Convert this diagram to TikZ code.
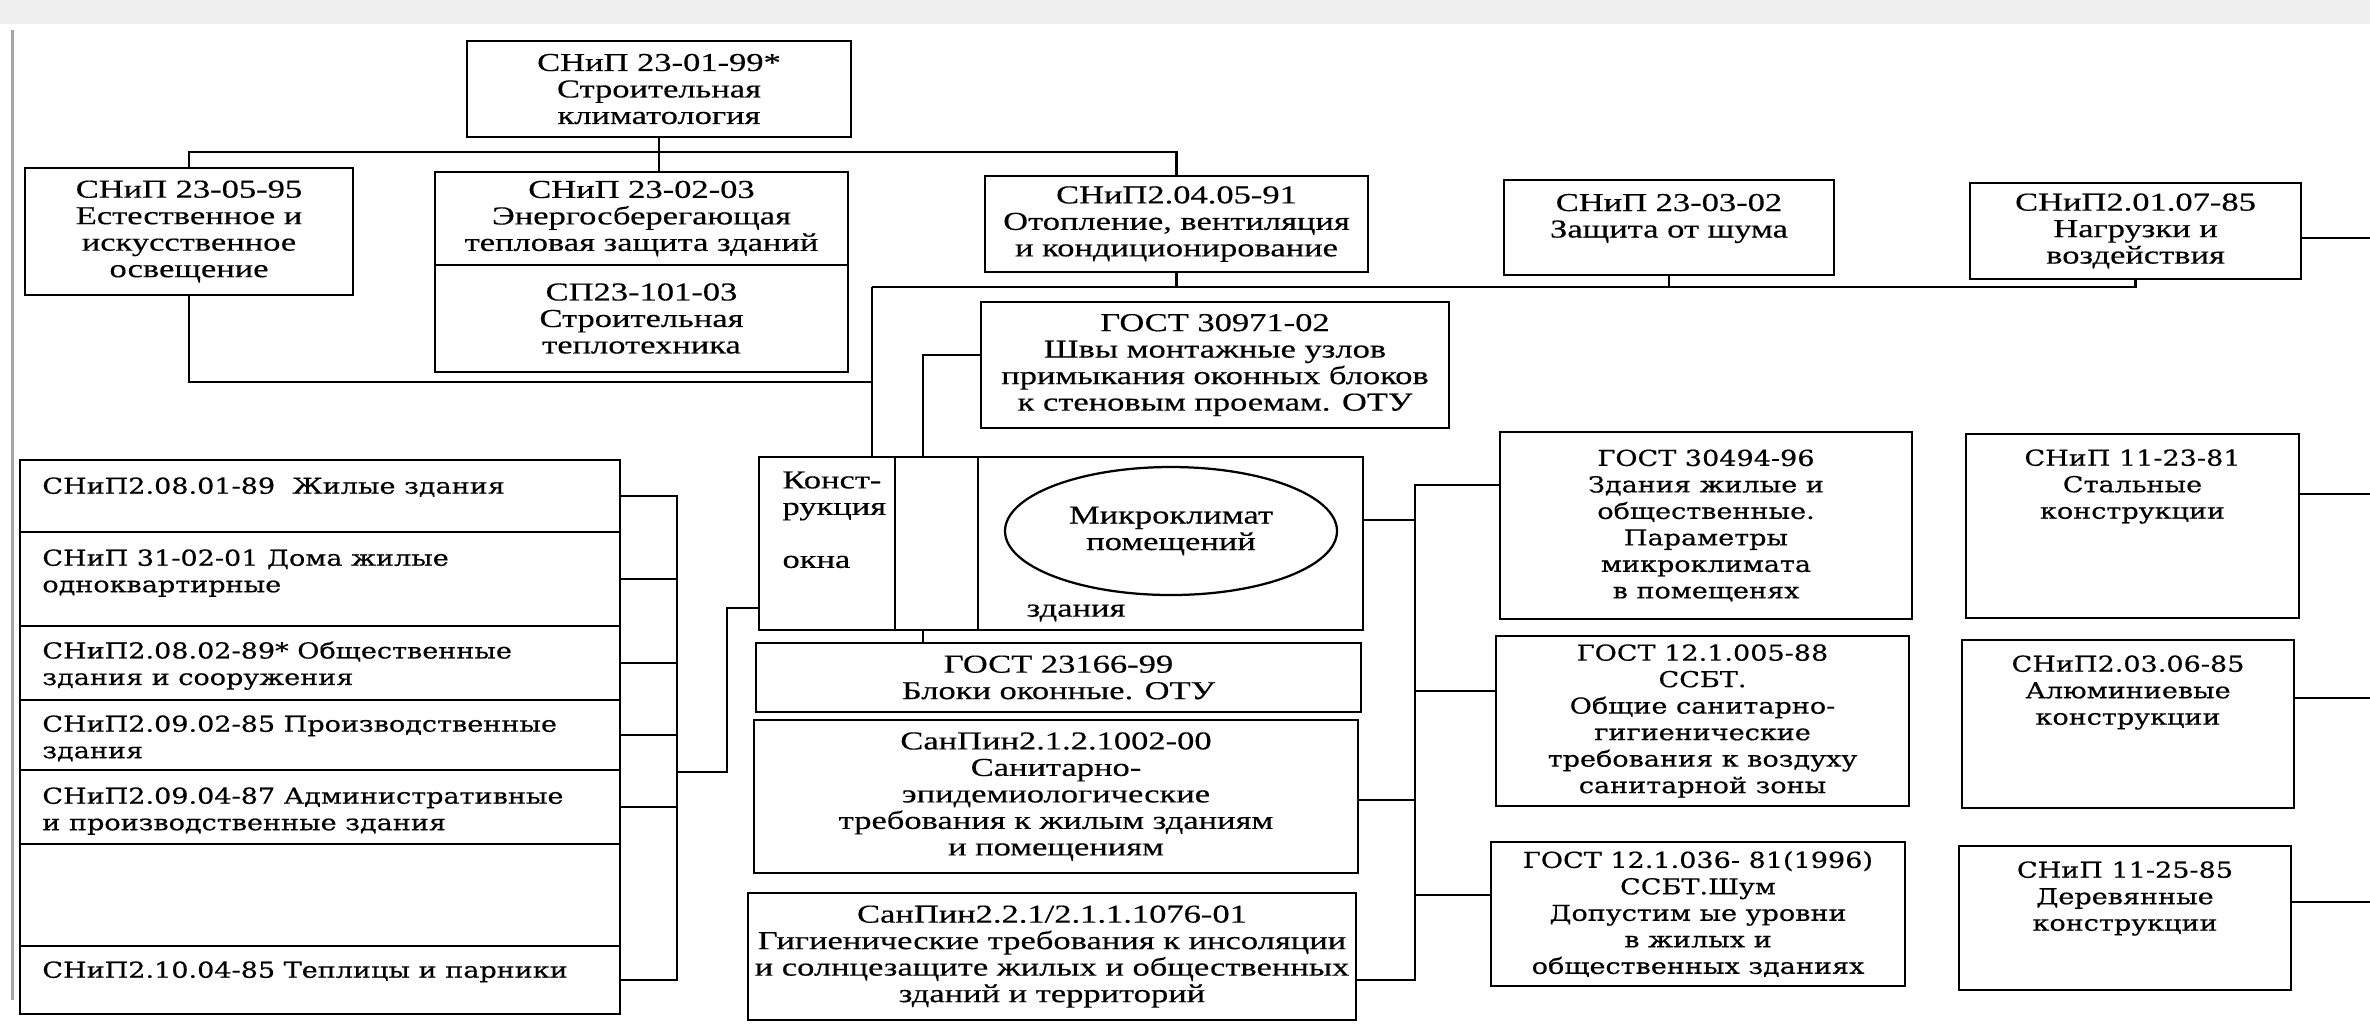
\documentclass[tikz,border=0pt]{standalone}
\usepackage{fontspec}
\setmainfont[FakeStretch=1.34, FakeBold=0.4]{Liberation Serif}
\newfontfamily\stackfont[FakeStretch=1.23, FakeBold=0.5]{DejaVu Serif}
\usepackage{tikz}
\usetikzlibrary{positioning}
\usetikzlibrary{shapes.geometric}

\begin{document}
\begin{tikzpicture}[x=0.4pt, y=-0.4pt,
  box/.style={draw, line width=0.9pt, inner sep=0pt, align=center, font=\fontsize{10.3}{10.6}\selectfont},
  wbox/.style={box, font=\stackfont\fontsize{8.8}{10.6}\selectfont},
  txt/.style={inner sep=0pt, align=center, font=\fontsize{10.3}{10.6}\selectfont},
  wtxt/.style={inner sep=0pt, align=left, font=\stackfont\fontsize{8.8}{10.6}\selectfont},
  wh/.style 2 args={minimum width=#1*0.4pt, minimum height=#2*0.4pt},
  wire/.style={draw, line width=0.9pt}]

\useasboundingbox (0,0) rectangle (2370,1023);

% scan edge
\fill[gray!12] (0,0) rectangle (2370,24);
\path[draw, gray!70, line width=1.2pt] (12,30) -- (12,1000);

% top rows
\node[box, wh={384}{96}] (1) at (659,89) {СНиП 23-01-99*\\Строительная\\климатология};
\node[box, wh={328}{127}] (2) at (189,231.5) {СНиП 23-05-95\\Естественное и\\искусственное\\освещение};
\node[box, wh={413}{93}] (3) at (641.5,218.5) {СНиП 23-02-03\\Энергосберегающая\\тепловая защита зданий};
\node[box, wh={413}{107}] (4) at (641.5,318.5) {СП23-101-03\\Строительная\\теплотехника};
\node[box, wh={383}{96}] (5) at (1176.5,224) {СНиП2.04.05-91\\Отопление, вентиляция\\и кондиционирование};
\node[box, wh={330}{95}] (6) at (1669,227.5) {};
\node[txt, below=5.8pt of 6.north] (6t) {СНиП 23-03-02\\Защита от шума};
\node[box, wh={331}{96}] (7) at (2135.5,231) {СНиП2.01.07-85\\Нагрузки и\\воздействия};
\node[box, wh={468}{126}] (8) at (1215,365) {ГОСТ 30971-02\\Швы монтажные узлов\\примыкания оконных блоков\\к стеновым проемам. ОТУ};

% window / microclimate block
\node[box, wh={136}{173}] (9) at (827,543.5) {};
\node[box, wh={83}{173}] (10) at (936.5,543.5) {};
\node[box, wh={385}{173}] (11) at (1170.5,543.5) {};
\node[txt, align=left, anchor=north west] (9t) at (782,471) {Конст-\\рукция\\[10.6pt]окна};
\node[box, ellipse, wh={332}{128}] (12) at (1171,531) {Микроклимат\\помещений};
\node[txt] (11t) at (1076,613) {здания};

\node[box, wh={605}{69}] (13) at (1058.5,677.5) {ГОСТ 23166-99\\Блоки оконные. ОТУ};
\node[box, wh={604}{153}] (14) at (1056,796.5) {СанПин2.1.2.1002-00\\Санитарно-\\эпидемиологические\\требования к жилым зданиям\\и помещениям};
\node[box, wh={608}{127}] (15) at (1052,956.5) {СанПин2.2.1/2.1.1.1076-01\\Гигиенические требования к инсоляции\\и солнцезащите жилых и общественных\\зданий и территорий};

% right columns
\node[wbox, wh={412}{187}] (16) at (1706,525.5) {ГОСТ 30494-96\\Здания жилые и\\общественные.\\Параметры\\микроклимата\\в помещенях};
\node[wbox, wh={413}{170}] (17) at (1702.5,721) {ГОСТ 12.1.005-88\\ССБТ.\\Общие санитарно-\\гигиенические\\требования к воздуху\\санитарной зоны};
\node[wbox, wh={414}{144}] (18) at (1698,914) {ГОСТ 12.1.036- 81(1996)\\ССБТ.Шум\\Допустим ые уровни\\в жилых и\\общественных зданиях};

\node[wbox, wh={333}{184}] (19) at (2132.5,526) {};
\node[wtxt, align=center, below=6.4pt of 19.north] (19t) {СНиП 11-23-81\\Стальные\\конструкции};
\node[wbox, wh={332}{168}] (20) at (2128,724) {};
\node[wtxt, align=center, below=6.4pt of 20.north] (20t) {СНиП2.03.06-85\\Алюминиевые\\конструкции};
\node[wbox, wh={332}{144}] (21) at (2125,918) {};
\node[wtxt, align=center, below=6.4pt of 21.north] (21t) {СНиП 11-25-85\\Деревянные\\конструкции};

% left stack
\node[wbox, wh={600}{72}] (22) at (320,496) {};
\node[wbox, wh={600}{94}] (23) at (320,579) {};
\node[wbox, wh={600}{74}] (24) at (320,663) {};
\node[wbox, wh={600}{70}] (25) at (320,735) {};
\node[wbox, wh={600}{74}] (26) at (320,807) {};
\node[wbox, wh={600}{102}] (27) at (320,895) {};
\node[wbox, wh={600}{68}] (28) at (320,980) {};
\node[wtxt, anchor=north west] (22t) at ([xshift=9.2pt, yshift=-7.2pt]22.north west) {СНиП2.08.01-89~~Жилые здания};
\node[wtxt, anchor=north west] (23t) at ([xshift=9.2pt, yshift=-7.2pt]23.north west) {СНиП 31-02-01 Дома жилые\\одноквартирные};
\node[wtxt, anchor=north west] (24t) at ([xshift=9.2pt, yshift=-6.4pt]24.north west) {СНиП2.08.02-89* Общественные\\здания и сооружения};
\node[wtxt, anchor=north west] (25t) at ([xshift=9.2pt, yshift=-6.4pt]25.north west) {СНиП2.09.02-85 Производственные\\здания};
\node[wtxt, anchor=north west] (26t) at ([xshift=9.2pt, yshift=-7.2pt]26.north west) {СНиП2.09.04-87 Административные\\и производственные здания};
\node[wtxt, anchor=north west] (28t) at ([xshift=9.2pt, yshift=-6.4pt]28.north west) {СНиП2.10.04-85 Теплицы и парники};

% junctions
\coordinate (j1) at (659,152);
\coordinate (j2) at (872,287);
\coordinate (j3) at (872,382);
\coordinate (j4) at (923,355);
\coordinate (s) at (677,772);
\coordinate (k) at (727,608);
\coordinate (r1) at (1415,485);
\coordinate (r2) at (1415,520);
\coordinate (r3) at (1415,691);
\coordinate (r4) at (1415,800);
\coordinate (r5) at (1415,895);
\coordinate (r6) at (1415,980);
\coordinate (e1) at (2370,238);
\coordinate (e2) at (2370,494);
\coordinate (e3) at (2370,698);
\coordinate (e4) at (2370,902);

\path[wire] (1.south) -- (1.south |- 3.north);
\path[wire] (2.north) |- (j1) -| (5.north);
\path[wire] (5.south) -- (5.south |- j2);
\path[wire] (6.south) -- (6.south |- j2);
\path[wire] (j2) -| (7.south);
\path[wire] (j2) -- (j2 |- 9.north);
\path[wire] (2.south) |- (j3);
\path[wire] (j4 -| 8.west) -- (j4) -- (j4 |- 10.north);
\path[wire] (10.south -| j4) -- (j4 |- 13.north);

\path[wire] (r1 -| 16.west) -- (r1) -- (r6) -- (r6 -| 15.east);
\path[wire] (r2 -| 11.east) -- (r2);
\path[wire] (r3) -- (r3 -| 17.west);
\path[wire] (r4 -| 14.east) -- (r4);
\path[wire] (r5) -- (r5 -| 18.west);

\path[wire] (e1 -| 7.east) -- (e1);
\path[wire] (e2 -| 19.east) -- (e2);
\path[wire] (e3 -| 20.east) -- (e3);
\path[wire] (e4 -| 21.east) -- (e4);

\path[wire] (22.east) -- (22.east -| s) -- (28.east -| s) -- (28.east);
\path[wire] (23.east) -- (23.east -| s);
\path[wire] (24.east) -- (24.east -| s);
\path[wire] (25.east) -- (25.east -| s);
\path[wire] (26.east) -- (26.east -| s);
\path[wire] (s) -| (k) -- (k -| 9.west);

\end{tikzpicture}
\end{document}
